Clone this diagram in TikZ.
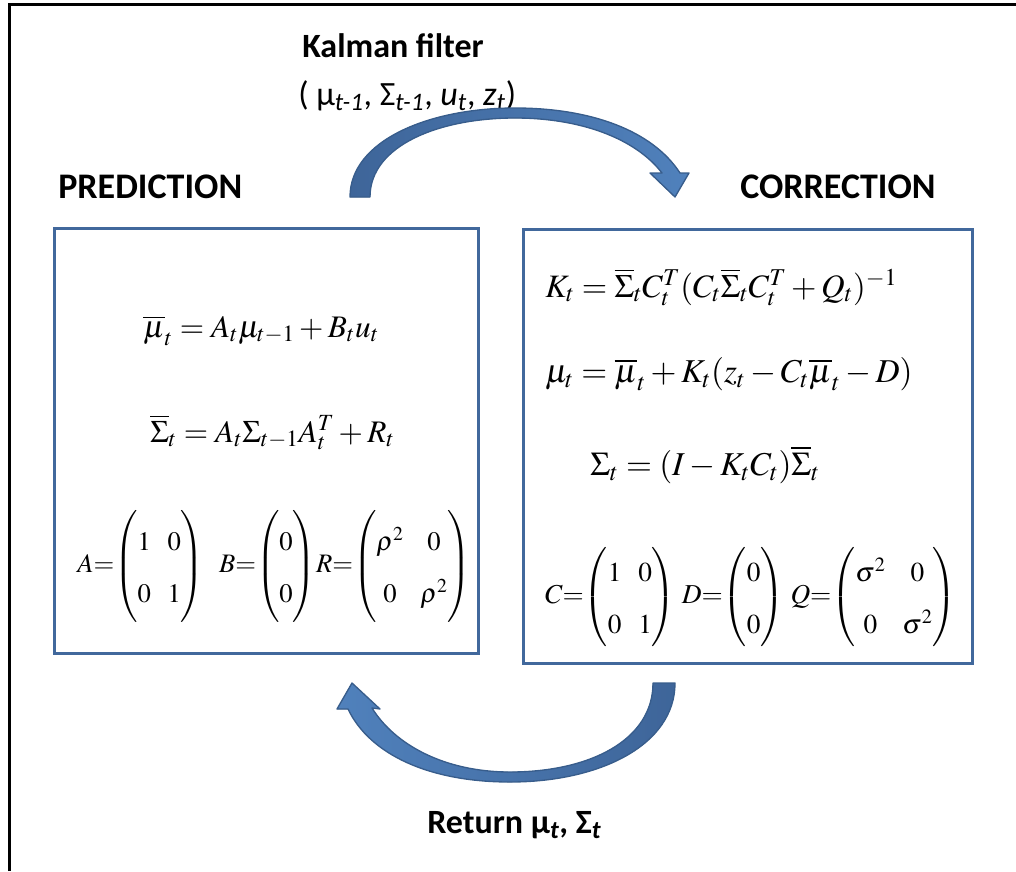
\documentclass[tikz,border=0pt]{standalone}
\usepackage{amsmath}
\usepackage{mathptmx}
\usepackage[no-math]{fontspec}
\setmainfont{Liberation Serif}
\newfontfamily\calibri{Carlito}
\usetikzlibrary{positioning}
\definecolor{Frame}{HTML}{41689C}
\definecolor{ArrowDark}{HTML}{3E6599}
\definecolor{ArrowLight}{HTML}{5081BC}
\definecolor{ArrowEdge}{HTML}{385D8C}
\renewcommand{\arraystretch}{1.3}
\setlength{\arraycolsep}{4pt}

\begin{document}
\begin{tikzpicture}[x=0.75pt,y=-0.75pt,
    panel/.style={draw=Frame,line width=2.25pt,inner sep=0pt},
    stepname/.style={anchor=base west,inner sep=0pt,font=\calibri\bfseries\fontsize{27}{32}\selectfont},
    argtext/.style={anchor=base west,inner sep=0pt,font=\calibri\fontsize{25.5}{30}\selectfont},
    eq/.style={anchor=base west,inner sep=0pt,font=\fontsize{#1}{#1}\selectfont},
    mats/.style={anchor=west,inner sep=0pt,font=\fontsize{#1}{30}\selectfont},
    blockarrow/.style={draw=ArrowEdge,line width=1pt,line join=round}]
    \useasboundingbox (0,0) rectangle (1016,871);
    % outer frame, cut off at right and bottom
    \draw[line width=2.25pt] (9.5,871)--(9.5,4.5)--(1016,4.5);
    % the two steps
    \node[panel,minimum width=318pt,minimum height=318.75pt] (pred) at (266,440.5) {};
    \node[panel,minimum width=336.75pt,minimum height=325.5pt] (corr) at (747.5,446) {};
    \node[stepname] (predname) at (58,198) {PREDICTION};
    \node[stepname] (corrname) at (740,198) {CORRECTION};
    \node[stepname,font=\calibri\bfseries\fontsize{25.5}{30}\selectfont] (kalman) at (302,57) {Kalman filter};
    \node[argtext] (args) at (298,105) {( μ\textsubscript{\itshape t-1}, Σ\textsubscript{\itshape t-1}, \textit{u}\textsubscript{\itshape t}, \textit{z}\textsubscript{\itshape t})};
    \node[stepname,font=\calibri\bfseries\fontsize{25.5}{30}\selectfont] (ret) at (427,833) {Return μ\textsubscript{\itshape t}, Σ\textsubscript{\itshape t}};
    % prediction
    \node[eq=23.5] (mubar) at (143,337) {$\overline{\mu}_t = A_t\mu_{t-1} + B_t u_t$};
    \node[eq=23.5] (sigbar) at (150,442) {$\overline{\Sigma}_t = A_t\Sigma_{t-1}A_t^T + R_t$};
    \node[mats=20] (predmat) at (77,566) {$A{=}\!\begin{pmatrix}1&\;0\\0&\;1\end{pmatrix}\;\; B{=}\!\begin{pmatrix}0\\0\end{pmatrix}\!R{=}\!\begin{pmatrix}\rho^2&\;0\\0&\;\rho^2\end{pmatrix}$};
    % correction
    \node[eq=24.5] (gain) at (545,297) {$K_t = \overline{\Sigma}_t C_t^T (C_t\overline{\Sigma}_t C_t^T + Q_t)^{-1}$};
    \node[eq=25] (mu) at (545,382) {$\mu_t = \overline{\mu}_t + K_t(z_t - C_t\overline{\mu}_t - D)$};
    \node[eq=25] (sig) at (590,475) {$\Sigma_t = (I - K_t C_t)\overline{\Sigma}_t$};
    \node[mats=20.5] (corrmat) at (545,597) {$C{=}\!\begin{pmatrix}1&\;0\\0&\;1\end{pmatrix}\, D{=}\!\begin{pmatrix}0\\0\end{pmatrix}\, Q{=}\!\begin{pmatrix}\sigma^2&\;0\\0&\;\sigma^2\end{pmatrix}$};
    % block arrows
    \filldraw[blockarrow,left color=ArrowDark,right color=ArrowLight]
      (350,197) .. controls (350,140) and (430,108) .. (515,108)
      .. controls (590,108) and (652,130) .. (680,173)
      -- (689,173) -- (675,197) -- (650,173) -- (662,173)
      .. controls (635,138) and (580,118) .. (515,118)
      .. controls (440,118) and (370,145) .. (370,197) -- cycle;
    \filldraw[blockarrow,left color=ArrowLight,right color=ArrowDark]
      (653,683) -- (675,683) .. controls (675,745) and (600,782) .. (510,782)
      .. controls (430,782) and (370,755) .. (348,709)
      -- (337,709) -- (352,683) -- (380,709) -- (372,708)
      .. controls (395,745) and (445,772) .. (510,772)
      .. controls (590,772) and (653,740) .. (653,683) -- cycle;
\end{tikzpicture}
\end{document}
